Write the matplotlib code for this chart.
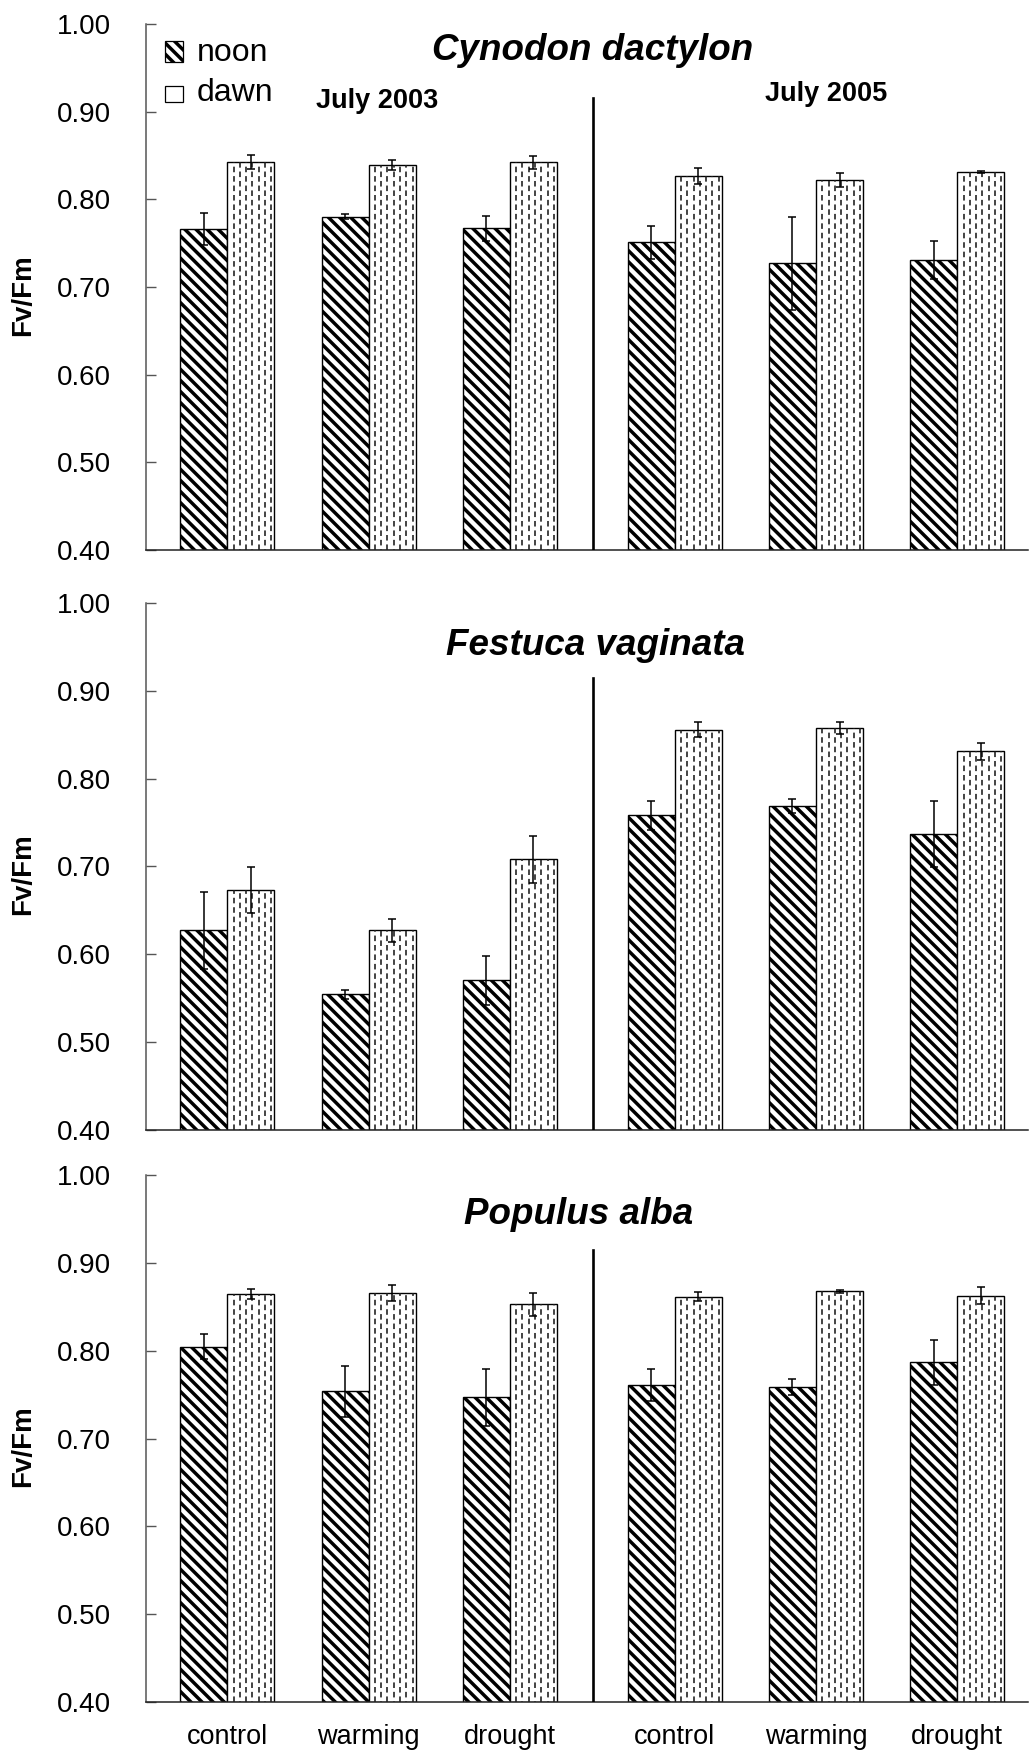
import matplotlib
matplotlib.use('Agg')
import matplotlib.pyplot as plt
from matplotlib.patches import Rectangle
import numpy as np

# Fv/Fm, order: 2003 control, warming, drought, then 2005 control, warming, drought
treatments = ['control', 'warming', 'drought']
years = ['July 2003', 'July 2005']
species = ['Cynodon dactylon', 'Festuca vaginata', 'Populus alba']

cynodon_noon = [0.766, 0.780, 0.767, 0.751, 0.727, 0.731]
cynodon_noon_err = [0.018, 0.003, 0.014, 0.019, 0.053, 0.022]
cynodon_dawn = [0.842, 0.839, 0.842, 0.827, 0.822, 0.831]
cynodon_dawn_err = [0.008, 0.006, 0.007, 0.009, 0.008, 0.001]

festuca_noon = [0.627, 0.554, 0.570, 0.758, 0.769, 0.737]
festuca_noon_err = [0.044, 0.005, 0.028, 0.017, 0.008, 0.038]
festuca_dawn = [0.673, 0.627, 0.708, 0.856, 0.858, 0.831]
festuca_dawn_err = [0.026, 0.013, 0.027, 0.009, 0.007, 0.010]

populus_noon = [0.805, 0.754, 0.747, 0.761, 0.759, 0.787]
populus_noon_err = [0.014, 0.029, 0.032, 0.018, 0.009, 0.026]
populus_dawn = [0.865, 0.866, 0.853, 0.862, 0.868, 0.863]
populus_dawn_err = [0.006, 0.009, 0.013, 0.005, 0.002, 0.010]

yticks = [0.40, 0.50, 0.60, 0.70, 0.80, 0.90, 1.00]

plt.rcParams['font.family'] = ['Liberation Sans', 'DejaVu Sans']
plt.rcParams['hatch.linewidth'] = 2.5
plt.rcParams['lines.scale_dashes'] = False

# layout
groups = np.array([0.579, 1.579, 2.579, 3.745, 4.745, 5.745])
w = 0.333
divider = 3.169
grey = '#555555'


def dashed_fill(ax, x0, width, y0, y1, n=7, transform=None):
    # vertical dashed lines used as the "dawn" fill
    kw = {}
    if transform is not None:
        kw['transform'] = transform
    step = width / (n + 0.5)
    for i in range(n):
        xx = x0 + (i + 1) * step
        off = 0 if i % 2 == 0 else 3.5
        ax.plot([xx, xx], [y0, y1], color='#1a1a1a', lw=1.15,
                linestyle=(off, (4.0, 2.8)), zorder=2.5, solid_capstyle='butt', **kw)


fig = plt.figure(figsize=(10.29, 17.55), dpi=100)
bottoms = [0.6865, 0.3564, 0.0303]
height = 0.2999

data = [(cynodon_noon, cynodon_noon_err, cynodon_dawn, cynodon_dawn_err),
        (festuca_noon, festuca_noon_err, festuca_dawn, festuca_dawn_err),
        (populus_noon, populus_noon_err, populus_dawn, populus_dawn_err)]
title_pos = [(0.507, 0.949), (0.51, 0.919), (0.491, 0.925)]

for k in range(3):
    ax = fig.add_axes([0.1414, bottoms[k], 0.8576, height])
    noon, noon_err, dawn, dawn_err = data[k]
    ymin = yticks[0]

    ax.bar(groups - w / 2, np.array(noon) - ymin, w, bottom=ymin, color='white',
           edgecolor='black', linewidth=1.0, hatch='\\\\\\', zorder=2)
    ax.bar(groups + w / 2, np.array(dawn) - ymin, w, bottom=ymin, color='white',
           edgecolor='black', linewidth=1.0, zorder=2)
    for g, v in zip(groups, dawn):
        dashed_fill(ax, g, w, ymin, v)
    ax.errorbar(groups - w / 2, noon, yerr=noon_err, fmt='none', ecolor='black',
                elinewidth=1.1, capsize=2.6, capthick=1.1, zorder=4)
    ax.errorbar(groups + w / 2, dawn, yerr=dawn_err, fmt='none', ecolor='black',
                elinewidth=1.1, capsize=2.6, capthick=1.1, zorder=4)

    # vertical line between the two years
    ax.plot([divider, divider], [ymin, 0.915], color='black', lw=1.9, zorder=3)

    ax.set_xlim(0, 6.245)
    ax.set_ylim(0.40, 1.00)
    ax.set_yticks(yticks)
    ax.set_yticklabels(['%.2f' % t for t in yticks])
    ax.tick_params(axis='y', direction='in', length=7, width=1.0, color=grey,
                   labelsize=20, pad=25)
    ax.spines['top'].set_visible(False)
    ax.spines['right'].set_visible(False)
    ax.spines['left'].set_color(grey)
    ax.spines['left'].set_linewidth(1.1)
    ax.spines['bottom'].set_color('#222222')
    ax.spines['bottom'].set_linewidth(1.1)
    ax.set_xticks(groups)
    if k == 2:
        ax.set_xticklabels(treatments * 2)
        ax.tick_params(axis='x', length=0, labelsize=19.5, pad=16)
    else:
        ax.set_xticklabels([])
        ax.tick_params(axis='x', length=0)

    ax.set_ylabel('Fv/Fm', fontsize=20, fontweight='bold')
    ax.yaxis.set_label_coords(-0.124, 0.485)

    ax.text(title_pos[k][0], title_pos[k][1], species[k], transform=ax.transAxes,
            ha='center', va='center', fontsize=26.5, fontweight='bold', fontstyle='italic')

    if k == 0:
        ax.text(0.263, 0.854, years[0], transform=ax.transAxes, ha='center',
                va='center', fontsize=19.5, fontweight='bold')
        ax.text(0.771, 0.867, years[1], transform=ax.transAxes, ha='center',
                va='center', fontsize=19.5, fontweight='bold')
        # legend keys
        ax.add_patch(Rectangle((0.022, 0.928), 0.0205, 0.04, transform=ax.transAxes,
                               facecolor='white', edgecolor='black', lw=0.9,
                               hatch='\\\\\\', zorder=3))
        ax.add_patch(Rectangle((0.022, 0.852), 0.0205, 0.03, transform=ax.transAxes,
                               facecolor='white', edgecolor='black', lw=0.9, zorder=3))
        dashed_fill(ax, 0.022, 0.0205, 0.852, 0.882, n=3, transform=ax.transAxes)
        ax.text(0.058, 0.945, 'noon', transform=ax.transAxes, ha='left', va='center',
                fontsize=23)
        ax.text(0.058, 0.869, 'dawn', transform=ax.transAxes, ha='left', va='center',
                fontsize=23)

fig.savefig('out.png', dpi=100)
